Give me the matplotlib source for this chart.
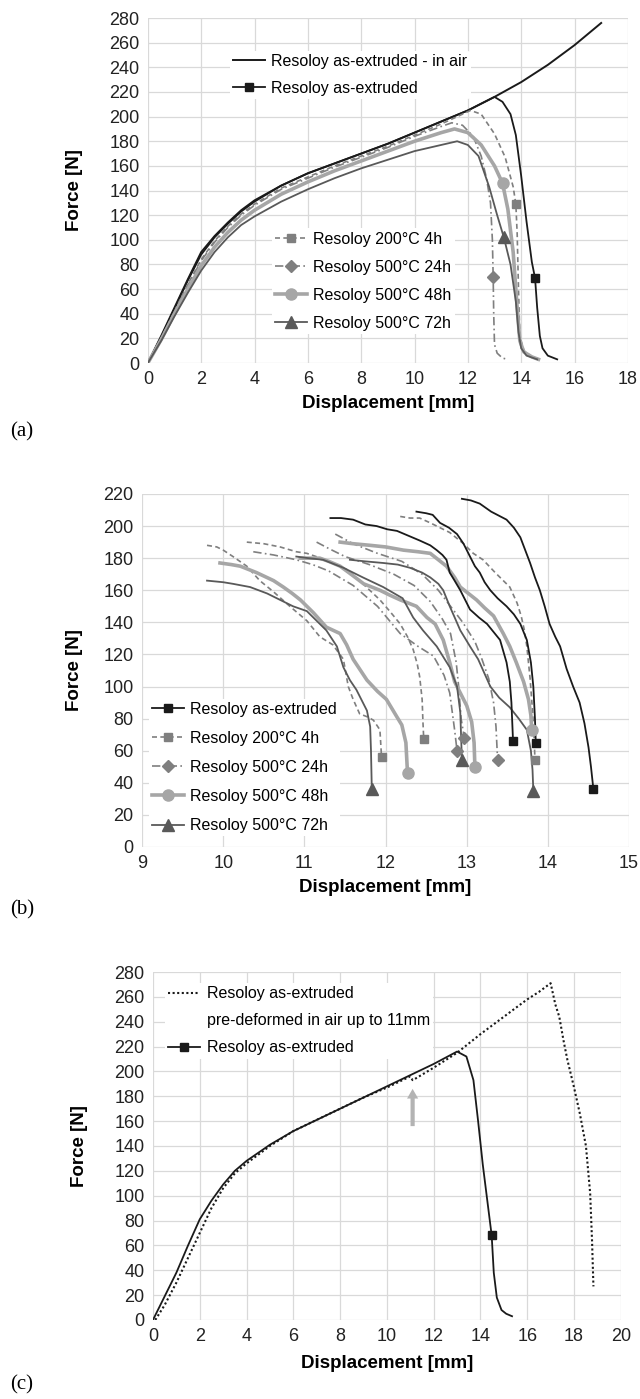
import matplotlib
matplotlib.use("Agg")
import matplotlib.pyplot as plt
from matplotlib.lines import Line2D

plt.rcParams["font.family"] = ["Liberation Sans", "DejaVu Sans"]

# ---------------- panel (a): full curves ----------------
a_air_x = [0, 0.5, 1, 1.5, 2, 2.5, 3, 3.5, 4, 5, 6, 7, 8, 9, 10, 11, 12, 13, 14, 15, 16, 17]
a_air_y = [0, 22, 45, 68, 90, 103, 114, 124, 132, 144, 154, 162, 170, 178, 187, 196, 205, 216, 228, 242, 258, 276]

a_ext_x = [0, 0.5, 1, 1.5, 2, 2.5, 3, 3.5, 4, 5, 6, 7, 8, 9, 10, 11, 12, 13,
           13.3, 13.6, 13.8, 14.0, 14.2, 14.4, 14.52, 14.6, 14.7, 14.8, 15.0, 15.35]
a_ext_y = [0, 21, 44, 67, 88, 102, 113, 123, 131, 144, 154, 162, 170, 178, 187, 196, 205, 216,
           212, 202, 185, 152, 115, 82, 69, 45, 22, 12, 6, 3]

a_200_x = [0, 0.5, 1, 1.5, 2, 2.5, 3, 3.5, 4, 5, 6, 7, 8, 9, 10, 11, 11.6, 12.1,
           12.5, 13.0, 13.4, 13.7, 13.8, 13.85, 13.9, 13.95, 14.1, 14.4, 14.7]
a_200_y = [0, 20, 42, 64, 84, 99, 111, 121, 129, 142, 151, 160, 168, 176, 185, 194, 200, 205,
           202, 186, 167, 143, 129, 105, 60, 22, 10, 5, 3]

a_24_x = [0, 0.5, 1, 1.5, 2, 2.5, 3, 3.5, 4, 5, 6, 7, 8, 9, 10, 11, 11.4, 11.8,
          12.2, 12.5, 12.7, 12.85, 12.92, 12.95, 12.97, 13.0, 13.1, 13.3, 13.5]
a_24_y = [0, 20, 42, 63, 83, 98, 110, 120, 128, 141, 150, 159, 167, 175, 184, 192, 195, 193,
          184, 168, 150, 130, 100, 70, 40, 15, 8, 4, 3]

a_48_x = [0, 0.5, 1, 1.5, 2, 2.5, 3, 3.5, 4, 5, 6, 7, 8, 9, 10, 11, 11.5, 12,
          12.5, 13, 13.3, 13.5, 13.7, 13.85, 13.95, 14.1, 14.4, 14.65]
a_48_y = [0, 19, 40, 60, 79, 94, 106, 116, 124, 137, 147, 156, 164, 172, 180, 187, 190, 187,
          177, 160, 146, 125, 90, 45, 18, 9, 5, 3]

a_72_x = [0, 0.5, 1, 1.5, 2, 2.5, 3, 3.5, 4, 5, 6, 7, 8, 9, 10, 11, 11.6, 12.0,
          12.4, 12.8, 13.1, 13.35, 13.6, 13.8, 13.9, 14.0, 14.2, 14.6]
a_72_y = [0, 18, 38, 57, 75, 90, 102, 112, 119, 131, 141, 150, 158, 165, 172, 177, 180, 177,
          168, 143, 120, 102, 80, 50, 25, 12, 6, 3]

# index of the single marker drawn on each curve
a_ext_mark = 24
a_200_mark = 22
a_24_mark = 23
a_48_mark = 20
a_72_mark = 21

# ---------------- panel (b): fracture region, 3 specimens each ----------------
b_ext_x = [
    [12.94, 13.05, 13.16, 13.3, 13.49, 13.58, 13.66, 13.72, 13.78, 13.84, 13.90, 13.96, 14.02,
     14.09, 14.15, 14.23, 14.31, 14.39, 14.45, 14.50, 14.53, 14.56],
    [12.38, 12.5, 12.58, 12.67, 12.78, 12.88, 12.96, 13.04, 13.10, 13.16, 13.22, 13.29, 13.38,
     13.49, 13.58, 13.66, 13.74, 13.79, 13.82, 13.84, 13.85],
    [11.32, 11.45, 11.60, 11.75, 11.89, 12.02, 12.14, 12.28, 12.42, 12.55, 12.63, 12.70, 12.75,
     12.79, 12.85, 12.92, 12.98, 13.04, 13.15, 13.25, 13.33, 13.41, 13.49, 13.53, 13.55, 13.57],
]
b_ext_y = [
    [217, 216, 214, 209, 204, 199, 193, 185, 177, 168, 160, 150, 139, 131, 125, 111, 100, 90,
     77, 62, 50, 36],
    [209, 208, 207, 202, 199, 195, 189, 181, 175, 171, 165, 160, 155, 150, 145, 139, 129, 115,
     100, 80, 65],
    [205, 205, 204, 201, 200, 198, 197, 194, 191, 188, 185, 182, 179, 171, 166, 160, 154, 148,
     143, 139, 134, 129, 115, 103, 90, 66],
]

b_200_x = [
    [12.18, 12.3, 12.42, 12.55, 12.67, 12.79, 12.96, 13.08, 13.20, 13.35, 13.53, 13.62, 13.67,
     13.71, 13.74, 13.78, 13.81, 13.83, 13.84],
    [10.29, 10.5, 10.7, 10.9, 11.03, 11.2, 11.35, 11.52, 11.7, 11.93, 12.05, 12.18, 12.27,
     12.34, 12.39, 12.42, 12.45, 12.46, 12.47],
    [9.80, 9.92, 10.0, 10.12, 10.29, 10.45, 10.62, 10.82, 11.03, 11.19, 11.35, 11.48, 11.54,
     11.6, 11.68, 11.78, 11.85, 11.93, 11.95],
]
b_200_y = [
    [206, 205, 205, 202, 199, 196, 189, 183, 179, 171, 162, 152, 144, 135, 125, 105, 85, 68, 54],
    [190, 189, 187, 184, 183, 180, 177, 173, 165, 154, 147, 139, 131, 123, 114, 106, 92, 78, 67],
    [188, 187, 185, 181, 175, 166, 159, 150, 141, 131, 126, 117, 100, 92, 83, 81, 79, 73, 56],
]

b_24_x = [
    [10.37, 10.62, 10.9, 11.1, 11.3, 11.6, 11.9, 12.18, 12.4, 12.59, 12.72, 12.79, 12.85, 12.88],
    [11.15, 11.3, 11.5, 11.8, 12.1, 12.35, 12.55, 12.7, 12.8, 12.87, 12.9, 12.93, 12.97],
    [11.38, 11.6, 11.9, 12.2, 12.45, 12.65, 12.8, 12.95, 13.1, 13.18, 13.27, 13.33, 13.36, 13.38],
]
b_24_y = [
    [184, 182, 179, 176, 172, 163, 150, 133, 125, 119, 107, 96, 73, 60],
    [190, 186, 181, 176, 170, 163, 153, 142, 133, 115, 100, 80, 68],
    [195, 189, 183, 178, 170, 160, 150, 140, 128, 118, 105, 90, 75, 54],
]

b_48_x = [
    [9.96, 10.1, 10.21, 10.41, 10.62, 10.74, 10.85, 10.95, 11.11, 11.27, 11.44, 11.52, 11.6,
     11.77, 11.9, 12.01, 12.14, 12.2, 12.25, 12.27],
    [11.44, 11.6, 11.81, 12.0, 12.22, 12.4, 12.55, 12.65, 12.75, 12.85, 12.92, 13.02, 13.12,
     13.22, 13.33, 13.45, 13.53, 13.61, 13.7, 13.76, 13.79, 13.80],
    [10.95, 11.05, 11.19, 11.3, 11.44, 11.6, 11.73, 11.93, 12.05, 12.18, 12.38, 12.51, 12.61,
     12.71, 12.79, 12.85, 12.92, 13.0, 13.06, 13.09, 13.1],
]
b_48_y = [
    [177, 176, 175, 171, 166, 162, 158, 154, 146, 137, 133, 126, 117, 104, 97, 92, 81, 76, 65, 46],
    [190, 189, 188, 187, 185, 184, 183, 179, 175, 168, 162, 158, 154, 149, 144, 133, 125, 115,
     103, 92, 82, 73],
    [180, 180, 180, 178, 175, 169, 164, 160, 157, 154, 150, 143, 139, 129, 115, 103, 96, 88, 78,
     65, 50],
]

b_72_x = [
    [9.80, 10.0, 10.12, 10.33, 10.54, 10.70, 10.86, 11.03, 11.15, 11.27, 11.40, 11.48, 11.56,
     11.64, 11.72, 11.77, 11.81, 11.82, 11.83],
    [11.56, 11.75, 11.97, 12.15, 12.30, 12.45, 12.55, 12.65, 12.71, 12.79, 12.86, 12.92, 13.04,
     13.14, 13.29, 13.4, 13.53, 13.64, 13.74, 13.79, 13.81, 13.82],
    [10.90, 11.05, 11.23, 11.48, 11.72, 11.97, 12.21, 12.34, 12.46, 12.63, 12.79, 12.88, 12.92,
     12.94],
]
b_72_y = [
    [166, 165, 164, 162, 158, 154, 150, 147, 141, 135, 125, 112, 104, 98, 90, 85, 75, 60, 36],
    [179, 178, 177, 176, 174, 171, 168, 164, 160, 150, 142, 135, 125, 117, 100, 93, 87, 80, 73,
     60, 48, 35],
    [181, 180, 179, 174, 168, 162, 155, 143, 135, 125, 112, 100, 84, 54],
]

# ---------------- panel (c): pre-deformed vs as-extruded ----------------
c_pre_x = [0.1, 0.5, 1, 1.5, 2, 2.5, 3, 3.5, 4, 5, 6, 7, 8, 9, 10, 11, 11.1, 11.2, 12, 13,
           14, 15, 16, 16.5, 17, 17.2, 17.37, 17.55, 17.72, 17.99, 18.25, 18.51, 18.69, 18.77, 18.83]
c_pre_y = [0, 12, 30, 50, 70, 90, 106, 118, 126, 140, 152, 161, 170, 179, 187, 196, 193, 194,
           203, 215, 230, 244, 258, 264, 271, 254, 244, 225, 209, 188, 166, 140, 102, 64, 27]

c_ext_x = [0, 0.5, 1.0, 1.5, 2.0, 2.5, 3.0, 3.5, 4.0, 5.0, 6.0, 7.0, 8.0, 9.0, 10.0, 11.0,
           12.0, 13.0, 13.4, 13.7, 13.9, 14.1, 14.3, 14.48, 14.57, 14.7, 14.9, 15.1, 15.35]
c_ext_y = [0, 19, 38, 60, 81, 96, 109, 120, 128, 141, 152, 161, 170, 179, 188, 197,
           206, 216, 212, 193, 160, 125, 95, 68, 38, 18, 8, 5, 3]
c_ext_mark = 23

arrow_x = 11.1
arrow_y = [156, 186]

# ---------------- styles ----------------
BLACK = "#1a1a1a"
GREY = "#7f7f7f"
LIGHT = "#a6a6a6"
DARK = "#595959"
GRID = "#d9d9d9"

sty_ext = dict(color=BLACK, ls="-", lw=1.3, marker="s", ms=6)
sty_200 = dict(color=GREY, ls=(0, (3, 2)), lw=1.2, marker="s", ms=6)
sty_24 = dict(color=GREY, ls=(0, (5, 2, 1, 2)), lw=1.2, marker="D", ms=6)
sty_48 = dict(color=LIGHT, ls="-", lw=2.6, marker="o", ms=8)
sty_72 = dict(color=DARK, ls="-", lw=1.3, marker="^", ms=8)


def style_axes(ax, xlim, xstep, ylim, ylabel_x, xlabel_y):
    ax.set_xlim(*xlim)
    ax.set_ylim(*ylim)
    ax.set_xticks(range(xlim[0], xlim[1] + 1, xstep))
    ax.set_yticks(range(ylim[0], ylim[1] + 1, 20))
    ax.grid(True, color=GRID, lw=0.9)
    ax.set_axisbelow(True)
    for s in ax.spines.values():
        s.set_visible(False)
    ax.tick_params(length=0, labelsize=13, pad=6, colors="#222222")
    ax.set_xlabel("Displacement [mm]", fontsize=13.5, fontweight="bold")
    ax.set_ylabel("Force [N]", fontsize=13.5, fontweight="bold")
    ax.xaxis.set_label_coords(0.5, xlabel_y)
    ax.yaxis.set_label_coords(ylabel_x, 0.5)


def draw(ax, x, y, sty, mark):
    ax.plot(x, y, color=sty["color"], ls=sty["ls"], lw=sty["lw"], zorder=3)
    ax.plot(x[mark], y[mark], ls="none", marker=sty["marker"], ms=sty["ms"],
            color=sty["color"], zorder=4)


def handle(sty):
    return Line2D([], [], color=sty["color"], ls=sty["ls"], lw=sty["lw"],
                  marker=sty["marker"], ms=sty["ms"])


def add_legend(ax, handles, labels, anchor, spacing):
    leg = ax.legend(handles, labels, loc="upper left", bbox_to_anchor=anchor,
                    fontsize=11.5, frameon=True, facecolor="white", edgecolor="none",
                    framealpha=1, borderpad=0.2, borderaxespad=0, handlelength=2.0,
                    handletextpad=0.4, labelspacing=spacing, numpoints=1)
    leg.set_zorder(5)
    return leg


fig = plt.figure(figsize=(6.4, 13.99), dpi=100)

# ---- (a)
ax1 = fig.add_axes([0.231, 0.7405, 0.75, 0.2466])
style_axes(ax1, (0, 18), 2, (0, 280), -0.135, -0.093)
ax1.plot(a_air_x, a_air_y, color=BLACK, lw=1.4, zorder=3)
draw(ax1, a_ext_x, a_ext_y, sty_ext, a_ext_mark)
draw(ax1, a_200_x, a_200_y, sty_200, a_200_mark)
draw(ax1, a_24_x, a_24_y, sty_24, a_24_mark)
draw(ax1, a_48_x, a_48_y, sty_48, a_48_mark)
draw(ax1, a_72_x, a_72_y, sty_72, a_72_mark)
leg1 = add_legend(ax1, [Line2D([], [], color=BLACK, lw=1.4), handle(sty_ext)],
                  ["Resoloy as-extruded - in air", "Resoloy as-extruded"],
                  (0.171, 0.905), 0.74)
ax1.add_artist(leg1)
add_legend(ax1, [handle(sty_200), handle(sty_24), handle(sty_48), handle(sty_72)],
           ["Resoloy 200°C 4h", "Resoloy 500°C 24h", "Resoloy 500°C 48h", "Resoloy 500°C 72h"],
           (0.258, 0.39), 0.82)

# ---- (b)
ax2 = fig.add_axes([0.222, 0.3946, 0.761, 0.2523])
style_axes(ax2, (9, 15), 1, (0, 220), -0.121, -0.09)
for xs, ys, sty in [(b_200_x, b_200_y, sty_200), (b_24_x, b_24_y, sty_24),
                    (b_48_x, b_48_y, sty_48), (b_72_x, b_72_y, sty_72),
                    (b_ext_x, b_ext_y, sty_ext)]:
    for x, y in zip(xs, ys):
        draw(ax2, x, y, sty, -1)
add_legend(ax2, [handle(sty_ext), handle(sty_200), handle(sty_24), handle(sty_48), handle(sty_72)],
           ["Resoloy as-extruded", "Resoloy 200°C 4h", "Resoloy 500°C 24h",
            "Resoloy 500°C 48h", "Resoloy 500°C 72h"],
           (0.014, 0.42), 0.88)

# ---- (c)
ax3 = fig.add_axes([0.239, 0.0565, 0.731, 0.2487])
style_axes(ax3, (0, 20), 2, (0, 280), -0.139, -0.1)
ax3.plot(c_pre_x, c_pre_y, color=BLACK, ls=(0, (1, 1.2)), lw=1.5, zorder=3)
draw(ax3, c_ext_x, c_ext_y, sty_ext, c_ext_mark)
ax3.annotate("", xy=(arrow_x, arrow_y[1]), xytext=(arrow_x, arrow_y[0]),
             arrowprops=dict(color="#b3b3b3", width=3, headwidth=8, headlength=7, lw=0),
             zorder=4)
add_legend(ax3, [Line2D([], [], color=BLACK, ls=(0, (1, 1.2)), lw=1.5),
                 Line2D([], [], color="none"), handle(sty_ext)],
           ["Resoloy as-extruded", "pre-deformed in air up to 11mm", "Resoloy as-extruded"],
           (0.026, 0.968), 0.75)

# panel letters
for label, ypix in [("(a)", 432), ("(b)", 910), ("(c)", 1385)]:
    fig.text(22 / 640, 1 - ypix / 1399, label, fontsize=15, family="Liberation Serif",
             ha="center", va="center")

fig.savefig("out.png", dpi=100)
